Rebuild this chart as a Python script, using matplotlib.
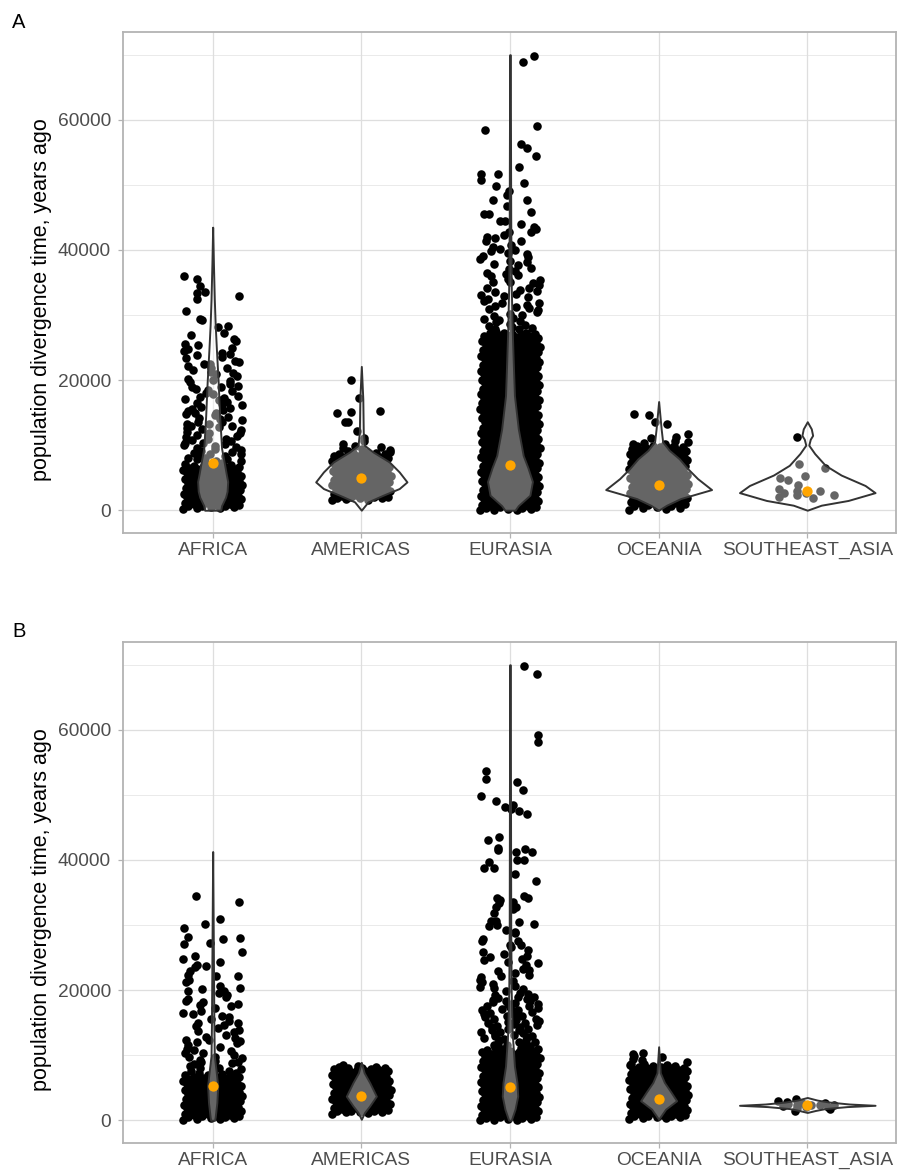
import numpy as np
import matplotlib.pyplot as plt

plt.rcParams['font.family'] = ['Liberation Sans', 'DejaVu Sans']

regions = ["AFRICA", "AMERICAS", "EURASIA", "OCEANIA", "SOUTHEAST_ASIA"]

# population divergence times, in thousands of years (read off the plot;
# the solid black blocks are overplotted, so their values are estimates)
a_africa = [36.0, 35.5, 34.4, 33.5, 33.4, 32.9, 32.4, 30.6, 29.4, 29.3, 28.3, 28.1, 27.3, 26.9, 26.3,
            25.6, 25.4, 24.7, 24.5, 23.9, 23.5, 23.4, 22.8, 22.5, 22.4, 21.8, 21.2, 21.1, 20.6, 20.2,
            19.8, 19.7, 19.1, 18.9, 18.4, 18.3, 17.9, 17.4, 17.2, 17.1, 16.6, 16.4, 16.1, 15.7, 15.6,
            15.2, 14.9, 14.8, 14.4, 14.0, 13.8, 13.3, 13.2, 12.9, 12.6, 12.5, 12.0, 14.2, 13.5, 12.8,
            16.9, 18.7, 19.4, 15.4, 13.0, 24.0, 23.0, 21.5, 20.9, 20.0, 19.0, 18.0, 17.6, 16.3, 15.9,
            15.0, 14.6, 13.6, 12.3, 21.9, 22.2, 24.2, 25.0, 26.0,
            11.9, 11.8, 11.6, 11.4, 11.2, 11.0, 10.9, 10.8, 10.6, 10.4, 10.3, 10.1, 10.0, 9.9, 9.7,
            9.6, 9.4, 9.2, 9.1, 9.0, 8.8, 8.7, 8.6, 8.4, 8.3, 8.1, 8.0, 7.9, 7.8, 7.6, 7.5, 7.3, 7.2,
            7.1, 7.0,
            6.9, 6.85, 6.8, 6.7, 6.65, 6.6, 6.5, 6.45, 6.4, 6.3, 6.25, 6.2, 6.1, 6.05, 6.0,
            5.9, 5.85, 5.8, 5.7, 5.65, 5.6, 5.5, 5.45, 5.4, 5.3, 5.25, 5.2, 5.1, 5.05, 5.0,
            4.9, 4.85, 4.8, 4.7, 4.65, 4.6, 4.5, 4.45, 4.4, 4.3, 4.25, 4.2, 4.1, 4.05, 4.0,
            3.9, 3.85, 3.8, 3.7, 3.65, 3.6, 3.5, 3.45, 3.4, 3.3, 3.25, 3.2, 3.1, 3.05, 3.0,
            2.9, 2.85, 2.8, 2.7, 2.65, 2.6, 2.5, 2.45, 2.4, 2.3, 2.25, 2.2, 2.1, 2.05, 2.0,
            1.9, 1.85, 1.8, 1.7, 1.65, 1.6, 1.5, 1.45, 1.4, 1.3, 1.25, 1.2, 1.1, 1.05, 1.0,
            0.9, 0.85, 0.8, 0.7, 0.65, 0.6, 0.5, 0.45, 0.4, 0.3, 0.2]
a_americas = [20.0, 17.2, 15.3, 15.1, 15.0, 13.6, 13.5, 12.1, 11.1, 10.7, 10.2, 9.9, 9.6, 9.4, 9.1,
              9.7, 9.3, 9.0,
              8.9, 8.85, 8.8, 8.7, 8.65, 8.6, 8.5, 8.45, 8.4, 8.3, 8.25, 8.2, 8.1, 8.05, 8.0,
              7.9, 7.85, 7.8, 7.7, 7.65, 7.6, 7.5, 7.45, 7.4, 7.3, 7.25, 7.2, 7.1, 7.05, 7.0,
              6.9, 6.85, 6.8, 6.7, 6.65, 6.6, 6.5, 6.45, 6.4, 6.3, 6.25, 6.2, 6.1, 6.05, 6.0,
              5.9, 5.85, 5.8, 5.7, 5.65, 5.6, 5.5, 5.45, 5.4, 5.3, 5.25, 5.2, 5.1, 5.05, 5.0,
              4.9, 4.85, 4.8, 4.7, 4.65, 4.6, 4.5, 4.45, 4.4, 4.3, 4.25, 4.2, 4.1, 4.05, 4.0,
              3.9, 3.85, 3.8, 3.7, 3.65, 3.6, 3.5, 3.45, 3.4, 3.3, 3.25, 3.2, 3.1, 3.05, 3.0,
              2.9, 2.85, 2.8, 2.7, 2.65, 2.6, 2.5, 2.45, 2.4, 2.3, 2.25, 2.2, 2.1, 2.05, 2.0,
              1.9, 1.85, 1.8, 1.7, 1.6, 1.5]
a_eurasia = [69.8, 68.9, 59.1, 58.5, 56.3, 55.6, 54.4, 52.7, 51.7, 51.7, 50.8, 50.3, 49.9, 49.1, 48.5,
             47.7, 47.7, 46.8, 45.9, 45.5, 45.5, 44.5, 44.5, 43.6, 42.8, 42.8, 42.0, 41.4, 41.3, 40.5,
             40.1, 40.0, 39.6, 39.1, 38.9, 38.3, 38.1, 37.3, 37.0, 36.5, 36.1, 36.0, 35.1, 35.0, 34.9,
             34.2, 34.1, 33.5, 33.2, 32.7, 32.5, 32.2, 31.8, 31.4, 31.2, 30.9, 30.4, 30.2, 29.9, 29.4,
             29.1, 28.6, 28.3, 28.1, 27.8, 44.0, 43.2, 42.3, 41.8, 40.8, 39.3, 38.6, 37.7, 36.8, 35.6,
             35.4, 34.6, 33.9, 33.0, 32.9, 31.6, 31.0, 30.7, 30.0, 29.6, 29.2, 28.9, 28.4, 28.0, 27.9,
             36.3, 39.8, 37.9, 33.7, 31.9,
             27.4, 27.3, 27.25, 27.2, 27.1, 27.05, 27.0,
             26.9, 26.85, 26.8, 26.7, 26.65, 26.6, 26.5, 26.45, 26.4, 26.3, 26.25, 26.2, 26.1, 26.05, 26.0,
             25.9, 25.85, 25.8, 25.7, 25.65, 25.6, 25.5, 25.45, 25.4, 25.3, 25.25, 25.2, 25.1, 25.05, 25.0,
             24.9, 24.85, 24.8, 24.7, 24.65, 24.6, 24.5, 24.45, 24.4, 24.3, 24.25, 24.2, 24.1, 24.05, 24.0,
             23.9, 23.85, 23.8, 23.7, 23.65, 23.6, 23.5, 23.45, 23.4, 23.3, 23.25, 23.2, 23.1, 23.05, 23.0,
             22.9, 22.85, 22.8, 22.7, 22.65, 22.6, 22.5, 22.45, 22.4, 22.3, 22.25, 22.2, 22.1, 22.05, 22.0,
             21.9, 21.85, 21.8, 21.7, 21.65, 21.6, 21.5, 21.45, 21.4, 21.3, 21.25, 21.2, 21.1, 21.05, 21.0,
             20.9, 20.85, 20.8, 20.7, 20.65, 20.6, 20.5, 20.45, 20.4, 20.3, 20.25, 20.2, 20.1, 20.05, 20.0,
             19.9, 19.85, 19.8, 19.7, 19.65, 19.6, 19.5, 19.45, 19.4, 19.3, 19.25, 19.2, 19.1, 19.05, 19.0,
             18.9, 18.85, 18.8, 18.7, 18.65, 18.6, 18.5, 18.45, 18.4, 18.3, 18.25, 18.2, 18.1, 18.05, 18.0,
             17.9, 17.85, 17.8, 17.7, 17.65, 17.6, 17.5, 17.45, 17.4, 17.3, 17.25, 17.2, 17.1, 17.05, 17.0,
             16.9, 16.85, 16.8, 16.7, 16.65, 16.6, 16.5, 16.45, 16.4, 16.3, 16.25, 16.2, 16.1, 16.05, 16.0,
             15.9, 15.85, 15.8, 15.7, 15.65, 15.6, 15.5, 15.45, 15.4, 15.3, 15.25, 15.2, 15.1, 15.05, 15.0,
             14.9, 14.85, 14.8, 14.7, 14.65, 14.6, 14.5, 14.45, 14.4, 14.3, 14.25, 14.2, 14.1, 14.05, 14.0,
             13.9, 13.85, 13.8, 13.7, 13.65, 13.6, 13.5, 13.45, 13.4, 13.3, 13.25, 13.2, 13.1, 13.05, 13.0,
             12.9, 12.85, 12.8, 12.7, 12.65, 12.6, 12.5, 12.45, 12.4, 12.3, 12.25, 12.2, 12.1, 12.05, 12.0,
             11.9, 11.85, 11.8, 11.7, 11.65, 11.6, 11.5, 11.45, 11.4, 11.3, 11.25, 11.2, 11.1, 11.05, 11.0,
             10.9, 10.85, 10.8, 10.7, 10.65, 10.6, 10.5, 10.45, 10.4, 10.3, 10.25, 10.2, 10.1, 10.05, 10.0,
             9.9, 9.85, 9.8, 9.7, 9.65, 9.6, 9.5, 9.45, 9.4, 9.3, 9.25, 9.2, 9.1, 9.05, 9.0,
             8.9, 8.85, 8.8, 8.7, 8.65, 8.6, 8.5, 8.45, 8.4, 8.3, 8.25, 8.2, 8.1, 8.05, 8.0,
             7.9, 7.85, 7.8, 7.7, 7.65, 7.6, 7.5, 7.45, 7.4, 7.3, 7.25, 7.2, 7.1, 7.05, 7.0,
             6.9, 6.85, 6.8, 6.7, 6.65, 6.6, 6.5, 6.45, 6.4, 6.3, 6.25, 6.2, 6.1, 6.05, 6.0,
             5.9, 5.85, 5.8, 5.7, 5.65, 5.6, 5.5, 5.45, 5.4, 5.3, 5.25, 5.2, 5.1, 5.05, 5.0,
             4.9, 4.85, 4.8, 4.7, 4.65, 4.6, 4.5, 4.45, 4.4, 4.3, 4.25, 4.2, 4.1, 4.05, 4.0,
             3.9, 3.85, 3.8, 3.7, 3.65, 3.6, 3.5, 3.45, 3.4, 3.3, 3.25, 3.2, 3.1, 3.05, 3.0,
             2.9, 2.85, 2.8, 2.7, 2.65, 2.6, 2.5, 2.45, 2.4, 2.3, 2.25, 2.2, 2.1, 2.05, 2.0,
             1.9, 1.85, 1.8, 1.7, 1.65, 1.6, 1.5, 1.45, 1.4, 1.3, 1.25, 1.2, 1.1, 1.05, 1.0,
             0.9, 0.85, 0.8, 0.7, 0.65, 0.6, 0.5, 0.45, 0.4, 0.3, 0.25, 0.2, 0.1, 0.05, 0.0]
a_oceania = [14.8, 14.6, 13.6, 13.3, 11.7, 11.2, 11.1, 10.7, 10.5, 10.3, 10.2, 10.1,
             9.9, 9.85, 9.8, 9.7, 9.65, 9.6, 9.5, 9.45, 9.4, 9.3, 9.25, 9.2, 9.1, 9.05, 9.0,
             8.9, 8.85, 8.8, 8.7, 8.65, 8.6, 8.5, 8.45, 8.4, 8.3, 8.25, 8.2, 8.1, 8.05, 8.0,
             7.9, 7.85, 7.8, 7.7, 7.65, 7.6, 7.5, 7.45, 7.4, 7.3, 7.25, 7.2, 7.1, 7.05, 7.0,
             6.9, 6.85, 6.8, 6.7, 6.65, 6.6, 6.5, 6.45, 6.4, 6.3, 6.25, 6.2, 6.1, 6.05, 6.0,
             5.9, 5.85, 5.8, 5.7, 5.65, 5.6, 5.5, 5.45, 5.4, 5.3, 5.25, 5.2, 5.1, 5.05, 5.0,
             4.9, 4.85, 4.8, 4.7, 4.65, 4.6, 4.5, 4.45, 4.4, 4.3, 4.25, 4.2, 4.1, 4.05, 4.0,
             3.9, 3.85, 3.8, 3.7, 3.65, 3.6, 3.5, 3.45, 3.4, 3.3, 3.25, 3.2, 3.1, 3.05, 3.0,
             2.9, 2.85, 2.8, 2.7, 2.65, 2.6, 2.5, 2.45, 2.4, 2.3, 2.25, 2.2, 2.1, 2.05, 2.0,
             1.9, 1.85, 1.8, 1.7, 1.65, 1.6, 1.5, 1.45, 1.4, 1.3, 1.25, 1.2, 1.1, 1.05, 1.0,
             0.9, 0.8, 0.7, 0.6, 0.5, 0.4, 0.3, 0.2, 0.1]
a_seasia = [11.3, 7.1, 6.5, 5.3, 4.9, 4.7, 3.9, 3.3, 2.9, 2.9, 2.6, 2.6, 2.4, 2.3, 2.1, 1.8]

b_africa = [34.4, 33.5, 30.9, 30.2, 29.5, 28.1, 28.0, 27.9, 27.3, 27.1, 25.8, 25.2, 24.8, 24.3, 23.8,
            23.7, 23.6, 22.9, 22.3, 22.2, 22.1, 21.6, 21.2, 20.7, 20.4, 19.9, 19.8, 19.3, 19.0, 18.6,
            18.4, 17.9, 17.5, 17.2, 16.8, 16.5, 16.1, 15.8, 15.6, 15.2, 14.9, 14.5, 14.2, 13.9, 13.5,
            13.1, 12.8, 12.6, 12.3, 12.0, 11.6, 11.3, 11.0, 10.6, 10.4, 10.1, 9.8, 9.5, 9.3, 9.0, 8.8,
            8.5, 8.3, 8.0, 7.8, 7.5, 7.3, 7.1, 6.9, 19.5, 18.1, 16.3, 15.0, 13.7, 12.4, 11.8, 10.8,
            9.7, 8.9, 8.1, 7.6, 7.2, 20.1, 17.7, 14.7, 12.2, 10.3, 9.1, 8.6, 7.9, 7.4, 7.0,
            6.8, 6.7, 6.65, 6.6, 6.5, 6.45, 6.4, 6.3, 6.25, 6.2, 6.1, 6.05, 6.0,
            5.9, 5.85, 5.8, 5.7, 5.65, 5.6, 5.5, 5.45, 5.4, 5.3, 5.25, 5.2, 5.1, 5.05, 5.0,
            4.9, 4.85, 4.8, 4.7, 4.65, 4.6, 4.5, 4.45, 4.4, 4.3, 4.25, 4.2, 4.1, 4.05, 4.0,
            3.9, 3.85, 3.8, 3.7, 3.65, 3.6, 3.5, 3.45, 3.4, 3.3, 3.25, 3.2, 3.1, 3.05, 3.0,
            2.9, 2.85, 2.8, 2.7, 2.65, 2.6, 2.5, 2.45, 2.4, 2.3, 2.25, 2.2, 2.1, 2.05, 2.0,
            1.9, 1.85, 1.8, 1.7, 1.65, 1.6, 1.5, 1.45, 1.4, 1.3, 1.25, 1.2, 1.1, 1.05, 1.0,
            0.9, 0.85, 0.8, 0.7, 0.65, 0.6, 0.5, 0.45, 0.4, 0.3, 0.25, 0.2, 0.1]
b_americas = [8.5, 8.3, 8.25, 8.2, 8.1, 8.05, 8.0,
              7.9, 7.85, 7.8, 7.7, 7.65, 7.6, 7.5, 7.45, 7.4, 7.3, 7.25, 7.2, 7.1, 7.05, 7.0,
              6.9, 6.85, 6.8, 6.7, 6.65, 6.6, 6.5, 6.45, 6.4, 6.3, 6.25, 6.2, 6.1, 6.05, 6.0,
              5.9, 5.85, 5.8, 5.7, 5.65, 5.6, 5.5, 5.45, 5.4, 5.3, 5.25, 5.2, 5.1, 5.05, 5.0,
              4.9, 4.85, 4.8, 4.7, 4.65, 4.6, 4.5, 4.45, 4.4, 4.3, 4.25, 4.2, 4.1, 4.05, 4.0,
              3.9, 3.85, 3.8, 3.7, 3.65, 3.6, 3.5, 3.45, 3.4, 3.3, 3.25, 3.2, 3.1, 3.05, 3.0,
              2.9, 2.85, 2.8, 2.7, 2.65, 2.6, 2.5, 2.45, 2.4, 2.3, 2.25, 2.2, 2.1, 2.05, 2.0,
              1.9, 1.85, 1.8, 1.7, 1.65, 1.6, 1.5, 1.45, 1.4, 1.3, 1.25, 1.2, 1.1, 1.0]
b_eurasia = [69.8, 68.6, 59.2, 58.2, 53.7, 52.5, 52.0, 50.7, 49.9, 49.0, 48.5, 48.2, 47.8, 47.6, 47.0,
             43.6, 43.1, 41.8, 41.5, 41.3, 41.2, 41.7, 40.0, 40.0, 39.7, 38.8, 38.7, 37.9, 36.8, 34.4,
             34.2, 34.2, 33.8, 33.6, 33.4, 32.8, 32.7, 32.5, 31.9, 30.7, 30.6, 30.4, 30.2, 30.0, 29.8,
             29.0, 29.2, 28.8, 27.8, 27.6, 27.5, 27.0, 26.6, 26.2, 25.9, 25.5, 25.1, 24.8, 24.6, 24.1,
             23.8, 23.3, 22.9, 22.7, 22.4, 22.0, 21.6, 21.2, 20.9, 20.5, 20.1, 19.8, 19.4, 19.0,
             26.9, 25.3, 24.4, 23.1, 22.2, 21.4, 20.7, 20.3, 19.6, 19.2,
             18.9, 18.8, 18.7, 18.5, 18.4, 18.3, 18.1, 18.0, 17.9, 17.8, 17.6, 17.5, 17.4, 17.3, 17.1,
             17.0, 16.9, 16.8, 16.6, 16.5, 16.4, 16.3, 16.1, 16.0, 15.9, 15.8, 15.6, 15.5, 15.4, 15.3,
             15.1, 15.0, 14.9, 14.8, 14.6, 14.5, 14.4, 14.3, 14.1, 14.0, 13.9, 13.8, 13.6, 13.5, 13.4,
             13.3, 13.1, 13.0, 12.9, 12.8, 12.6, 12.5, 12.4, 12.3, 12.1, 12.0, 11.9, 11.8, 11.6, 11.5,
             11.4, 11.3, 11.1, 11.0,
             10.9, 10.85, 10.8, 10.7, 10.65, 10.6, 10.5, 10.45, 10.4, 10.3, 10.25, 10.2, 10.1, 10.05, 10.0,
             9.9, 9.85, 9.8, 9.7, 9.65, 9.6, 9.5, 9.45, 9.4, 9.3, 9.25, 9.2, 9.1, 9.05, 9.0,
             8.9, 8.85, 8.8, 8.7, 8.65, 8.6, 8.5, 8.45, 8.4, 8.3, 8.25, 8.2, 8.1, 8.05, 8.0,
             7.9, 7.85, 7.8, 7.7, 7.65, 7.6, 7.5, 7.45, 7.4, 7.3, 7.25, 7.2, 7.1, 7.05, 7.0,
             6.9, 6.85, 6.8, 6.7, 6.65, 6.6, 6.5, 6.45, 6.4, 6.3, 6.25, 6.2, 6.1, 6.05, 6.0,
             5.9, 5.85, 5.8, 5.7, 5.65, 5.6, 5.5, 5.45, 5.4, 5.3, 5.25, 5.2, 5.1, 5.05, 5.0,
             4.9, 4.85, 4.8, 4.7, 4.65, 4.6, 4.5, 4.45, 4.4, 4.3, 4.25, 4.2, 4.1, 4.05, 4.0,
             3.9, 3.85, 3.8, 3.7, 3.65, 3.6, 3.5, 3.45, 3.4, 3.3, 3.25, 3.2, 3.1, 3.05, 3.0,
             2.9, 2.85, 2.8, 2.7, 2.65, 2.6, 2.5, 2.45, 2.4, 2.3, 2.25, 2.2, 2.1, 2.05, 2.0,
             1.9, 1.85, 1.8, 1.7, 1.65, 1.6, 1.5, 1.45, 1.4, 1.3, 1.25, 1.2, 1.1, 1.05, 1.0,
             0.9, 0.85, 0.8, 0.7, 0.65, 0.6, 0.5, 0.45, 0.4, 0.3, 0.25, 0.2, 0.1, 0.05, 0.0]
b_oceania = [10.4, 10.2, 9.9, 9.7, 9.4, 9.2, 8.9, 8.7,
             8.6, 8.5, 8.45, 8.4, 8.3, 8.25, 8.2, 8.1, 8.05, 8.0,
             7.9, 7.85, 7.8, 7.7, 7.65, 7.6, 7.5, 7.45, 7.4, 7.3, 7.25, 7.2, 7.1, 7.05, 7.0,
             6.9, 6.85, 6.8, 6.7, 6.65, 6.6, 6.5, 6.45, 6.4, 6.3, 6.25, 6.2, 6.1, 6.05, 6.0,
             5.9, 5.85, 5.8, 5.7, 5.65, 5.6, 5.5, 5.45, 5.4, 5.3, 5.25, 5.2, 5.1, 5.05, 5.0,
             4.9, 4.85, 4.8, 4.7, 4.65, 4.6, 4.5, 4.45, 4.4, 4.3, 4.25, 4.2, 4.1, 4.05, 4.0,
             3.9, 3.85, 3.8, 3.7, 3.65, 3.6, 3.5, 3.45, 3.4, 3.3, 3.25, 3.2, 3.1, 3.05, 3.0,
             2.9, 2.85, 2.8, 2.7, 2.65, 2.6, 2.5, 2.45, 2.4, 2.3, 2.25, 2.2, 2.1, 2.05, 2.0,
             1.9, 1.85, 1.8, 1.7, 1.65, 1.6, 1.5, 1.45, 1.4, 1.3, 1.25, 1.2, 1.1, 1.05, 1.0,
             0.9, 0.85, 0.8, 0.7, 0.65, 0.6, 0.5, 0.45, 0.4, 0.3, 0.2]
b_seasia = [3.3, 3.0, 2.8, 2.7, 2.6, 2.5, 2.4, 2.4, 2.3, 2.3, 2.2, 2.1, 2.0, 1.9, 1.7, 1.5]

# orange summary points (kyr)
a_centre = [7.2, 5.0, 7.0, 3.9, 2.9]
b_centre = [5.2, 3.7, 5.1, 3.2, 2.3]

# violin outlines: level (kyr) and half width (category units)
a_africa_lv = [0, 0.7, 2.0, 2.9, 4.4, 5.6, 6.9, 9.5, 14.5, 19.7, 24.8, 28.5, 32.4, 38.0, 43.5]
a_africa_hw = [0.054, 0.060, 0.087, 0.097, 0.101, 0.091, 0.081, 0.060, 0.047, 0.037, 0.025, 0.017,
               0.011, 0.005, 0.0]
a_americas_lv = [0, 1.28, 2.30, 3.33, 4.35, 5.88, 7.42, 8.95, 9.96, 12.0, 17.1, 22.1]
a_americas_hw = [0, 0.045, 0.146, 0.255, 0.307, 0.255, 0.188, 0.079, 0.022, 0.013, 0.010, 0]
a_eurasia_lv = [0, 0.7, 2.3, 4.4, 6.5, 8.4, 12.5, 17.6, 22.8, 27.8, 35.0, 45.0, 70.0]
a_eurasia_hw = [0.034, 0.056, 0.134, 0.151, 0.121, 0.089, 0.056, 0.030, 0.022, 0.015, 0.008, 0.005,
                0.002]
a_oceania_lv = [0, 0.77, 1.79, 3.17, 4.86, 6.4, 7.9, 9.2, 10.5, 12.5, 16.7]
a_oceania_hw = [0, 0.054, 0.148, 0.356, 0.262, 0.195, 0.139, 0.072, 0.027, 0.017, 0]
a_seasia_lv = [0, 0.77, 1.5, 2.7, 3.8, 5.4, 6.9, 8.7, 10.0, 10.9, 11.5, 12.5, 13.6]
a_seasia_hw = [0, 0.094, 0.275, 0.456, 0.389, 0.228, 0.121, 0.050, 0.010, 0.020, 0.036, 0.027, 0]

b_africa_lv = [0, 0.5, 2.7, 5.3, 7.8, 9.9, 15.0, 25.0, 41.3]
b_africa_hw = [0.013, 0.017, 0.028, 0.034, 0.022, 0.011, 0.008, 0.005, 0]
b_americas_lv = [0.15, 1.2, 2.2, 3.7, 5.8, 7.3, 8.9]
b_americas_hw = [0, 0.022, 0.056, 0.101, 0.056, 0.019, 0]
b_eurasia_lv = [0, 0.15, 1.7, 3.7, 5.8, 8.3, 13.5, 20.0, 30.0, 70.0]
b_eurasia_hw = [0.007, 0.011, 0.034, 0.052, 0.047, 0.030, 0.015, 0.008, 0.005, 0.002]
b_oceania_lv = [0.15, 1.7, 3.0, 4.3, 5.8, 7.3, 11.3]
b_oceania_hw = [0, 0.047, 0.121, 0.084, 0.039, 0.011, 0]
b_seasia_lv = [1.2, 1.5, 1.8, 2.1, 2.3, 2.5, 2.8, 3.1, 3.5]
b_seasia_hw = [0, 0.054, 0.121, 0.268, 0.456, 0.282, 0.148, 0.067, 0]

panel_a = [a_africa, a_americas, a_eurasia, a_oceania, a_seasia]
panel_b = [b_africa, b_americas, b_eurasia, b_oceania, b_seasia]
violins_a = [(a_africa_lv, a_africa_hw), (a_americas_lv, a_americas_hw), (a_eurasia_lv, a_eurasia_hw),
             (a_oceania_lv, a_oceania_hw), (a_seasia_lv, a_seasia_hw)]
violins_b = [(b_africa_lv, b_africa_hw), (b_americas_lv, b_americas_hw), (b_eurasia_lv, b_eurasia_hw),
             (b_oceania_lv, b_oceania_hw), (b_seasia_lv, b_seasia_hw)]

GRID = '#DEDEDE'
BORDER = '#B3B3B3'
TEXT = '#4D4D4D'


def spread(y):
    # horizontal jitter in [-0.2, 0.2]: golden-ratio spacing keeps the dense
    # parts solid, a hashed offset breaks up the pattern where points are sparse
    i = np.arange(len(y))
    gap = np.gradient(y) if len(y) > 1 else np.ones(1)
    mix = np.clip((gap - 0.1) / 0.3, 0, 1)
    h = (np.sin(i * 12.9898 + 1.3) * 43758.5453) % 1
    u = (i * 0.618034 + mix * h) % 1
    return (u - 0.5) * 0.4


def draw_panel(ax, groups, violins, centre):
    for i, vals in enumerate(groups):
        pos = i + 1
        y = np.sort(np.array(vals))
        ax.scatter(pos + spread(y), y * 1000, s=38, c='black', linewidths=0, zorder=2)
        lv, hw = violins[i]
        lv = np.array(lv) * 1000
        hw = np.array(hw)
        ax.fill_betweenx(lv, pos - hw, pos + hw, facecolor=(1, 1, 1, 0.4),
                         edgecolor='#333333', linewidth=1.4, zorder=3)
    ax.scatter(np.arange(1, 6), np.array(centre) * 1000, s=55, c='#FFA500',
               linewidths=0, zorder=4)

    ax.set_xlim(0.4, 5.6)
    ax.set_ylim(-3500, 73500)
    ax.set_xticks(range(1, 6))
    ax.set_xticklabels(regions)
    ax.set_yticks([0, 20000, 40000, 60000])
    ax.set_yticklabels(["0", "20000", "40000", "60000"])
    ax.set_yticks([10000, 30000, 50000, 70000], minor=True)
    ax.grid(which='major', color=GRID, linewidth=0.9)
    ax.grid(which='minor', axis='y', color=GRID, linewidth=0.45)
    ax.set_axisbelow(True)
    for sp in ax.spines.values():
        sp.set_color(BORDER)
        sp.set_linewidth(1.3)
    ax.tick_params(which='major', color=BORDER, length=3.6, width=0.9,
                   labelcolor=TEXT, labelsize=13.8)
    ax.tick_params(axis='y', which='major', pad=5.5)
    ax.tick_params(axis='x', which='major', pad=3)
    ax.tick_params(which='minor', length=0)


fig = plt.figure(figsize=(8.98, 11.75), dpi=100)
ax_a = fig.add_axes([0.1375, 0.5464, 0.8608, 0.4264])
ax_b = fig.add_axes([0.1375, 0.0272, 0.8608, 0.4264])
draw_panel(ax_a, panel_a, violins_a, a_centre)
draw_panel(ax_b, panel_b, violins_b, b_centre)

ylab = "population divergence time, years ago"
fig.text(42 / 898, 1 - 299.5 / 1175, ylab, rotation=90, ha='center', va='center', fontsize=15.5)
fig.text(42 / 898, 1 - 909.5 / 1175, ylab, rotation=90, ha='center', va='center', fontsize=15.5)
fig.text(12 / 898, 1 - 28 / 1175, "A", fontsize=14.5, va='baseline')
fig.text(12 / 898, 1 - 637 / 1175, "B", fontsize=14.5, va='baseline')

fig.savefig("out.png", dpi=100)
